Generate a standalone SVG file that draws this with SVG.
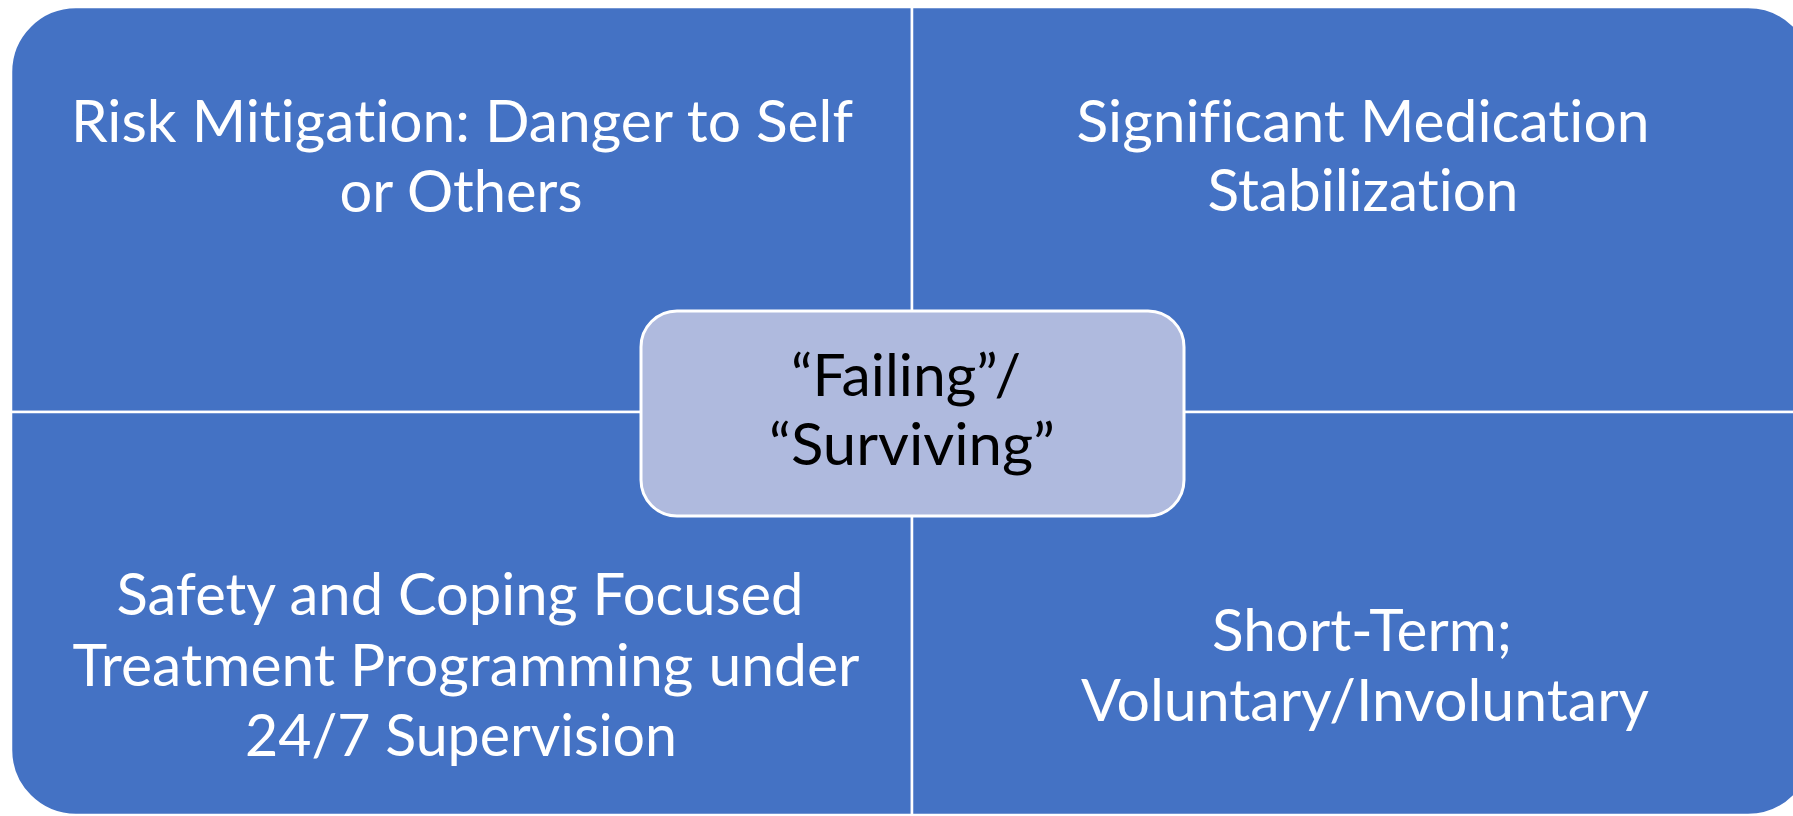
<svg xmlns="http://www.w3.org/2000/svg" width="1793" height="816" viewBox="0 0 1793 816">
<style>
.quad{fill:#4472C4;stroke:#FFFFFF;stroke-width:2.5}
.center{fill:#AFBADE;stroke:#FFFFFF;stroke-width:3}
.lbl{font-family:Lato,"Open Sans","Liberation Sans",sans-serif;font-size:59px;text-anchor:middle;fill:#FFFFFF;font-variant-ligatures:none;font-feature-settings:"liga" 0,"clig" 0}
.clbl{font-family:Lato,"Open Sans","Liberation Sans",sans-serif;font-size:59px;text-anchor:middle;fill:#000000;font-variant-ligatures:none;font-feature-settings:"liga" 0,"clig" 0}
</style>
<rect x="0" y="0" width="1793" height="816" fill="#FFFFFF"/>
<g id="q1">
<path class="quad" d="M11,412 L11,72 A65,65 0 0 1 76,7 L912,7 L912,412 Z"/>
<text class="lbl" x="462" y="142" textLength="782" lengthAdjust="spacingAndGlyphs">Risk Mitigation: Danger to Self</text>
<text class="lbl" x="461" y="212" textLength="243" lengthAdjust="spacingAndGlyphs">or Others</text>
</g>
<g id="q2">
<path class="quad" d="M912,7 L1748,7 A65,65 0 0 1 1813,72 L1813,412 L912,412 Z"/>
<text class="lbl" x="1363" y="142" textLength="573" lengthAdjust="spacingAndGlyphs">Significant Medication</text>
<text class="lbl" x="1363" y="211" textLength="311" lengthAdjust="spacingAndGlyphs">Stabilization</text>
</g>
<g id="q3">
<path class="quad" d="M11,412 L912,412 L912,815 L76,815 A65,65 0 0 1 11,750 Z"/>
<text class="lbl" x="460" y="615" textLength="687" lengthAdjust="spacingAndGlyphs">Safety and Coping Focused</text>
<text class="lbl" x="466" y="686" textLength="787" lengthAdjust="spacingAndGlyphs">Treatment Programming under</text>
<text class="lbl" x="461" y="756" textLength="432" lengthAdjust="spacingAndGlyphs">24/7 Supervision</text>
</g>
<g id="q4">
<path class="quad" d="M912,412 L1813,412 L1813,750 A65,65 0 0 1 1748,815 L912,815 Z"/>
<text class="lbl" x="1362" y="651" textLength="300" lengthAdjust="spacingAndGlyphs">Short-Term;</text>
<text class="lbl" x="1365" y="721" textLength="568" lengthAdjust="spacingAndGlyphs">Voluntary/Involuntary</text>
</g>
<g id="connectors"></g>
<g id="center">
<rect class="center" x="641" y="311" width="543" height="205" rx="36" ry="36"/>
<text class="clbl" x="906" y="396" textLength="230" lengthAdjust="spacingAndGlyphs">“Failing”/</text>
<text class="clbl" x="912" y="465" textLength="286" lengthAdjust="spacingAndGlyphs">“Surviving”</text>
</g>
</svg>
